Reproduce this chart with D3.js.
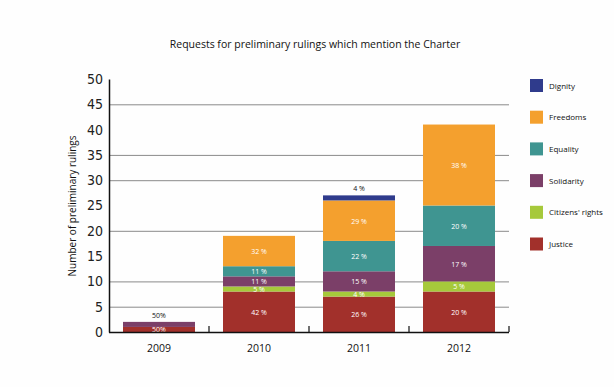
<!DOCTYPE html>
<html>
<head>
<meta charset="utf-8">
<script src="https://cdn.jsdelivr.net/npm/d3@7"></script>
<style>
  body { margin: 0; background: #fefefe; }
  svg { font-family: "Open Sans", sans-serif; }
</style>
</head>
<body>
<div id="chart"></div>
<script>
// data
var years = ["2009", "2010", "2011", "2012"];
var series = ["Justice", "Citizens' rights", "Solidarity", "Equality", "Freedoms", "Dignity"];
var justice   = [1, 8, 7, 8];
var citizens  = [0, 1, 1, 2];
var solidarity = [1, 2, 4, 7];
var equality  = [0, 2, 6, 8];
var freedoms  = [0, 6, 8, 16];
var dignity   = [0, 0, 1, 0];
var pctLabels = [
    ["50%", "", "50%", "", "", ""],
    ["42 %", "5 %", "11 %", "11 %", "32 %", ""],
    ["26 %", "4 %", "15 %", "22 %", "29 %", "4 %"],
    ["20 %", "5 %", "17 %", "20 %", "38 %", ""]
];
var yTicks = [0, 5, 10, 15, 20, 25, 30, 35, 40, 45, 50];
var gridTicks = [5, 10, 20, 30, 35, 45];

var colors = {
    "Dignity": "#2f3b8c",
    "Freedoms": "#f4a02e",
    "Equality": "#3f9591",
    "Solidarity": "#7b3f68",
    "Citizens' rights": "#a6c93b",
    "Justice": "#a2302b"
};
var legendOrder = ["Dignity", "Freedoms", "Equality", "Solidarity", "Citizens' rights", "Justice"];

var values = [justice, citizens, solidarity, equality, freedoms, dignity];
var table = years.map(function(yr, i) {
    var row = {year: yr};
    series.forEach(function(s, j) { row[s] = values[j][i]; });
    return row;
});

var svg = d3.select("#chart")
    .append("svg")
        .attr("width", 614)
        .attr("height", 387);

var x = d3.scaleBand()
    .domain(years)
    .range([109, 509])
    .paddingInner(0.28)
    .paddingOuter(0.14);

var y = d3.scaleLinear()
    .domain([0, 50])
    .range([332, 79]);

// title
svg.append("text")
    .attr("x", 315)
    .attr("y", 48)
    .attr("text-anchor", "middle")
    .style("font-size", "10.5px")
    .style("fill", "#111")
    .text("Requests for preliminary rulings which mention the Charter");

// grid lines
svg.append("g")
    .selectAll("line")
    .data(gridTicks)
    .enter()
    .append("line")
        .attr("x1", 109)
        .attr("x2", 509)
        .attr("y1", function(d) { return y(d) + 0.5; })
        .attr("y2", function(d) { return y(d) + 0.5; })
        .style("stroke", "#8a8a8a")
        .style("stroke-width", 1);

// stacked bars
var stacked = d3.stack().keys(series)(table);

var layers = svg.append("g")
    .selectAll("g")
    .data(stacked)
    .enter()
    .append("g")
        .style("fill", function(d) { return colors[d.key]; });

layers.selectAll("rect")
    .data(function(d) { return d; })
    .enter()
    .append("rect")
        .attr("x", function(d) { return x(d.data.year); })
        .attr("y", function(d) { return y(d[1]); })
        .attr("width", x.bandwidth())
        .attr("height", function(d) { return y(d[0]) - y(d[1]); })
        .style("display", function(d) { return d[1] > d[0] ? null : "none"; });

// percentage labels
var labelData = [];
stacked.forEach(function(layer, j) {
    layer.forEach(function(d, i) {
        var txt = pctLabels[i][j];
        if (!txt) return;
        var top = d3.max(stacked, function(l) { return l[i][1]; });
        var outside = (series[j] === "Dignity") || (years[i] === "2009" && series[j] === "Solidarity");
        labelData.push({
            text: txt,
            cx: x(years[i]) + x.bandwidth() / 2,
            cy: outside ? y(top) - 4 : (y(d[0]) + y(d[1])) / 2 + 3,
            fill: outside ? "#111" : "#fff"
        });
    });
});

svg.append("g")
    .selectAll("text")
    .data(labelData)
    .enter()
    .append("text")
        .attr("x", function(d) { return d.cx; })
        .attr("y", function(d) { return d.cy; })
        .attr("text-anchor", "middle")
        .style("font-size", "7px")
        .style("fill", function(d) { return d.fill; })
        .text(function(d) { return d.text; });

// x axis
var xAxis = svg.append("g")
    .attr("transform", "translate(0,332)");
xAxis.append("line")
    .attr("x1", 109).attr("x2", 509)
    .attr("y1", 0.5).attr("y2", 0.5)
    .style("stroke", "#111").style("stroke-width", 1.5);
xAxis.selectAll(".sep")
    .data(years)
    .enter()
    .append("line")
        .attr("x1", function(d) { return x(d) + x.step() - x.step() * x.paddingInner() / 2; })
        .attr("x2", function(d) { return x(d) + x.step() - x.step() * x.paddingInner() / 2; })
        .attr("y1", -6).attr("y2", 0)
        .style("stroke", "#111").style("stroke-width", 1.2);
xAxis.selectAll(".yr")
    .data(years)
    .enter()
    .append("text")
        .attr("x", function(d) { return x(d) + x.bandwidth() / 2; })
        .attr("y", 20)
        .attr("text-anchor", "middle")
        .style("font-size", "10.5px")
        .style("fill", "#111")
        .text(function(d) { return d; });

// y axis
var yAxis = svg.append("g")
    .attr("transform", "translate(109,0)")
    .call(d3.axisLeft(y).tickValues(yTicks).tickSize(0).tickPadding(6));
yAxis.select(".domain")
    .style("stroke", "#111").style("stroke-width", 1.5);
yAxis.selectAll("text")
    .style("font-family", "'DejaVu Sans Condensed', 'DejaVu Sans', sans-serif")
    .style("font-stretch", "condensed")
    .style("font-size", "14px")
    .style("fill", "#222");

svg.append("text")
    .attr("transform", "translate(76,206) rotate(-90)")
    .attr("text-anchor", "middle")
    .style("font-size", "10px")
    .style("fill", "#111")
    .text("Number of preliminary rulings");

// legend
var legend = svg.append("g")
    .selectAll("g")
    .data(legendOrder)
    .enter()
    .append("g")
        .attr("transform", function(d, i) { return "translate(530," + (79 + i * 31.7) + ")"; });
legend.append("rect")
    .attr("width", 13)
    .attr("height", 13)
    .style("fill", function(d) { return colors[d]; });
legend.append("text")
    .attr("x", 19)
    .attr("y", 9.5)
    .style("font-size", "8px")
    .style("fill", "#111")
    .text(function(d) { return d; });
</script>
</body>
</html>
